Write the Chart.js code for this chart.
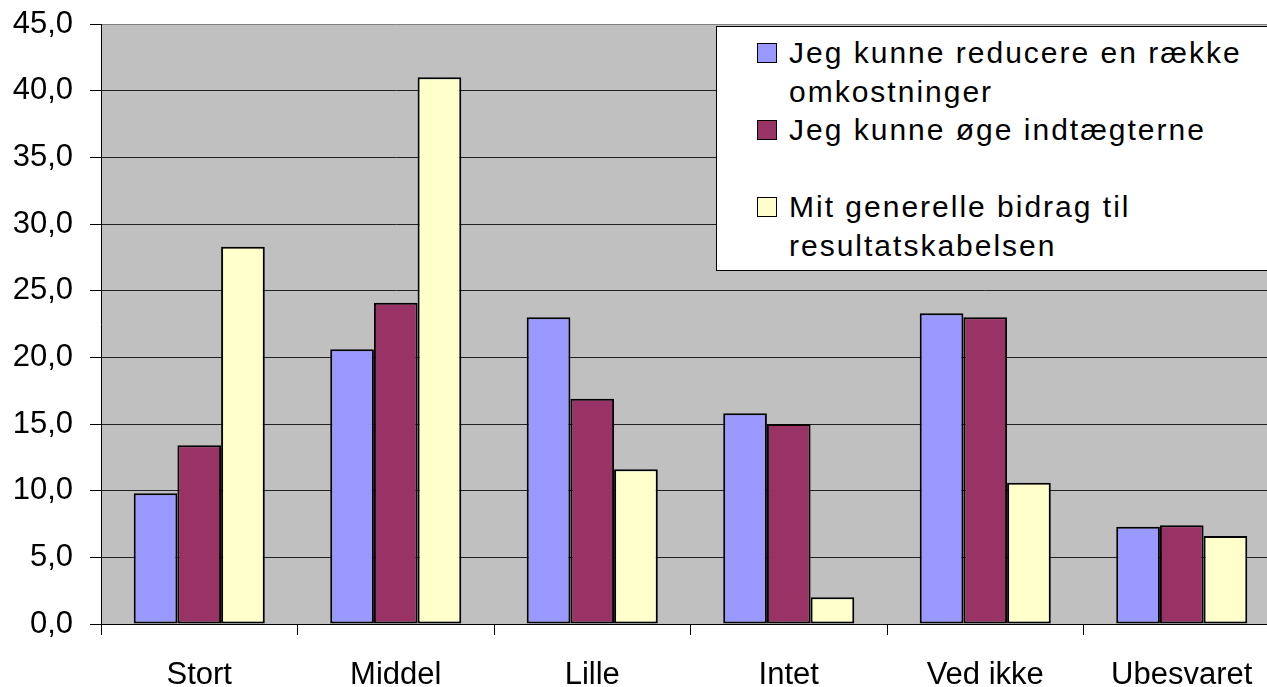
<!DOCTYPE html>
<html>
<head>
<meta charset="utf-8">
<script src="https://cdn.jsdelivr.net/npm/chart.js@4"></script>
<style>
    html, body { margin: 0; padding: 0; background: #fff; overflow: hidden; }
    #wrap { position: relative; width: 1282px; height: 687px; }
    #legend {
        position: absolute; left: 716px; top: 26px; width: 600px; height: 245px;
        background: #fff; border: 1px solid #000; box-sizing: border-box;
        font-family: "Liberation Sans", Arial, sans-serif; font-size: 30px; color: #000;
        letter-spacing: 2px;
    }
    .item { position: absolute; left: 0; height: 78px; }
    .box { position: absolute; left: 40px; width: 18px; height: 18px; border: 1px solid #000; }
    .txt { position: absolute; left: 72px; white-space: pre; line-height: 39px; }
</style>
</head>
<body>
<div id="wrap">
    <canvas id="myChart"></canvas>
    <div id="legend"></div>
</div>
<script>
const categories = ['Stort', 'Middel', 'Lille', 'Intet', 'Ved ikke', 'Ubesvaret'];
const seriesNames = [
    'Jeg kunne reducere en række\nomkostninger',
    'Jeg kunne øge indtægterne',
    'Mit generelle bidrag til\nresultatskabelsen'
];
const reducere = [9.8, 20.6, 23.0, 15.8, 23.3, 7.3];
const indtaegter = [13.4, 24.1, 16.9, 15.0, 23.0, 7.4];
const bidrag = [28.3, 41.0, 11.6, 2.0, 10.6, 6.6];
const colors = ['#9999ff', '#993366', '#ffffcc'];
const yTicks = [0, 5, 10, 15, 20, 25, 30, 35, 40, 45];

const ctx = document.getElementById('myChart');

// grey plot area behind the bars
const plotBg = {
    id: 'plotBg',
    beforeDraw(chart) {
        const a = chart.chartArea;
        chart.ctx.save();
        chart.ctx.fillStyle = '#c0c0c0';
        chart.ctx.fillRect(a.left, a.top, a.right - a.left, a.bottom - a.top);
        chart.ctx.restore();
    }
};

Chart.defaults.font.family = '"Liberation Sans", Arial, sans-serif';
Chart.defaults.color = '#000';

new Chart(ctx, {
    type: 'bar',
    data: {
        labels: categories,
        datasets: [reducere, indtaegter, bidrag].map((d, i) => ({
            label: seriesNames[i],
            data: d,
            backgroundColor: colors[i],
            borderColor: '#000',
            borderWidth: 2,
            borderSkipped: false,
            barPercentage: 1,
            categoryPercentage: 0.667
        }))
    },
    options: {
        responsive: true,
        maintainAspectRatio: false,
        animation: false,
        layout: { autoPadding: false, padding: { top: 24, right: 2, left: 0, bottom: 0 } },
        plugins: {
            legend: { display: false },
            tooltip: { enabled: false }
        },
        scales: {
            x: {
                offset: true,
                grid: {
                    offset: true,
                    drawOnChartArea: false,
                    tickLength: 11,
                    tickColor: '#000'
                },
                border: { color: '#000', width: 1 },
                ticks: { font: { size: 31 }, padding: 22, maxRotation: 0 },
                afterFit(scale) {
                    scale.height = 63;
                    scale.paddingLeft = 0;
                    scale.paddingRight = 0;
                }
            },
            y: {
                min: 0,
                max: 45,
                afterBuildTicks(scale) { scale.ticks = yTicks.map(v => ({ value: v })); },
                grid: {
                    color: ctx => ctx.tick && ctx.tick.value === 45 ? '#808080' : '#222',
                    tickLength: 11,
                    tickColor: '#000'
                },
                border: { color: '#000', width: 1 },
                ticks: {
                    font: { size: 31 },
                    padding: 17,
                    callback: v => v.toFixed(1).replace('.', ',')
                },
                afterFit(scale) {
                    scale.width = 101;
                    scale.paddingTop = 0;
                    scale.paddingBottom = 0;
                }
            }
        }
    },
    plugins: [plotBg]
});

// legend box with wrapped series names
const legend = document.getElementById('legend');
seriesNames.forEach((name, i) => {
    const item = document.createElement('div');
    item.className = 'item';
    item.style.top = (6 + i * 77) + 'px';
    item.innerHTML = '<div class="box" style="top:10px;background:' + colors[i] + '"></div>' +
        '<div class="txt"></div>';
    item.querySelector('.txt').textContent = name;
    legend.appendChild(item);
});
</script>
</body>
</html>
